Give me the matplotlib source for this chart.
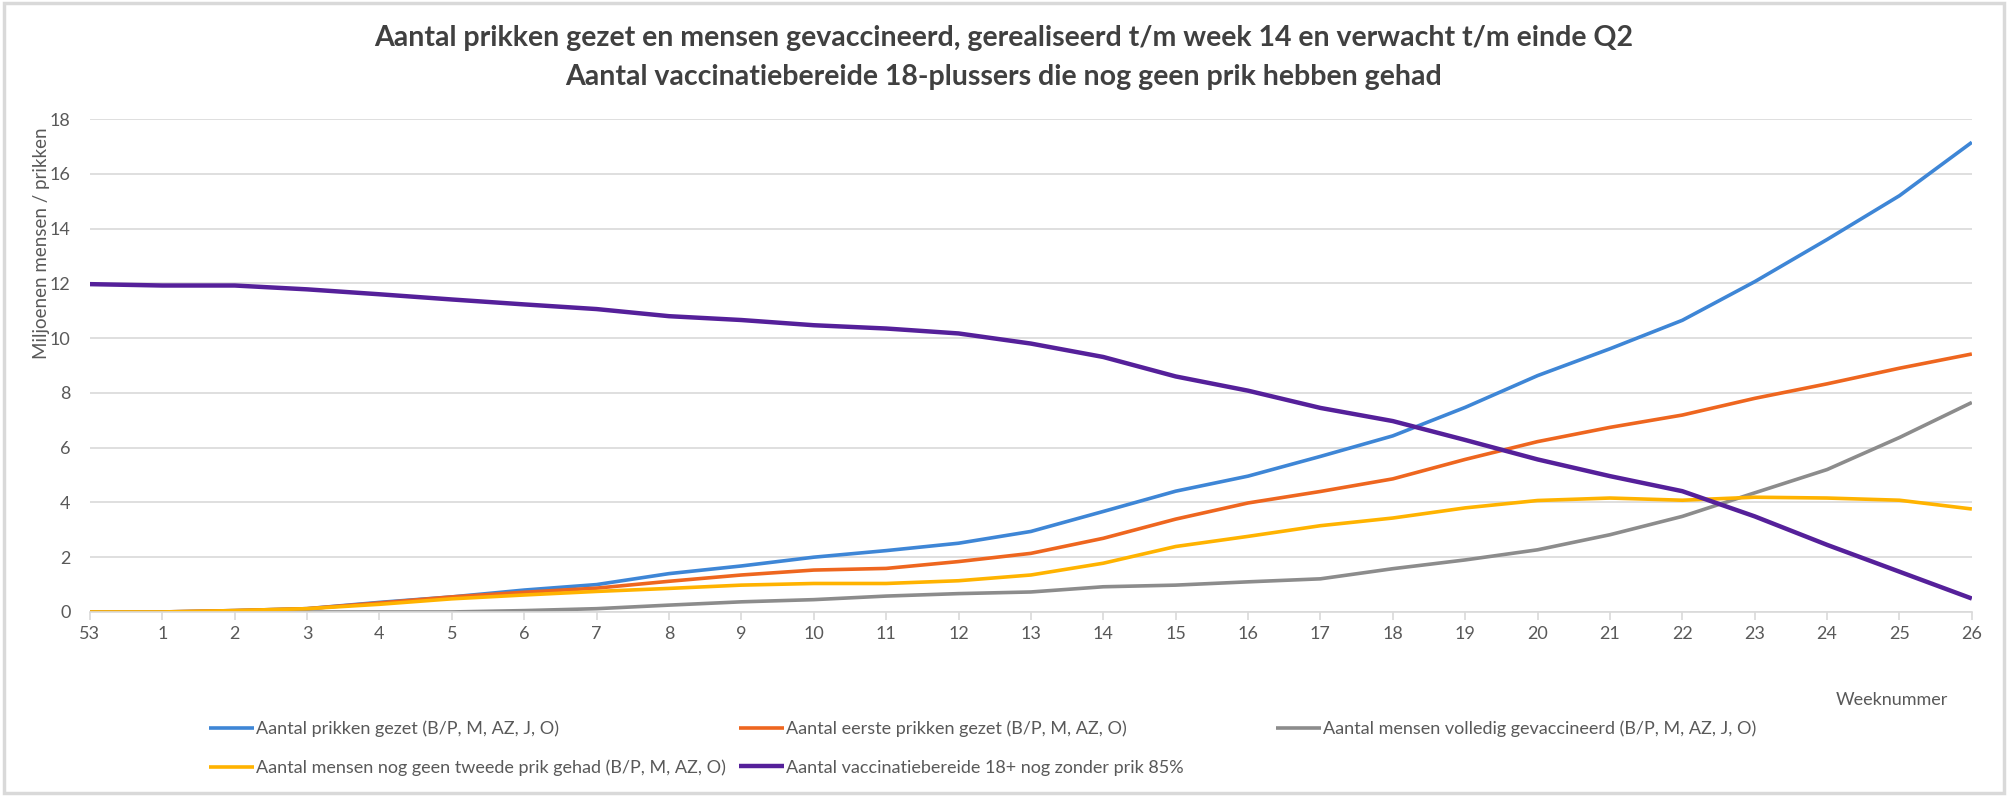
import matplotlib
matplotlib.use('Agg')
import matplotlib.pyplot as plt
from matplotlib.patches import Rectangle

plt.rcParams['font.family'] = ['Lato', 'DejaVu Sans']

weeks = ['53'] + [str(w) for w in range(1, 27)]

prikken_gezet = [0, 0, 0.05, 0.12, 0.35, 0.55, 0.8, 1.0, 1.4, 1.68, 2.0, 2.24, 2.51, 2.94, 3.67,
                 4.41, 4.96, 5.68, 6.43, 7.47, 8.63, 9.61, 10.65, 12.06, 13.6, 15.2, 17.15]
eerste_prikken = [0, 0, 0.05, 0.12, 0.33, 0.55, 0.72, 0.87, 1.12, 1.35, 1.53, 1.59, 1.84, 2.14, 2.69,
                  3.39, 3.98, 4.4, 4.86, 5.57, 6.22, 6.74, 7.19, 7.8, 8.33, 8.9, 9.42]
volledig = [0, 0, 0, 0, 0, 0, 0.05, 0.12, 0.25, 0.37, 0.45, 0.58, 0.67, 0.73, 0.92,
            0.98, 1.1, 1.21, 1.58, 1.9, 2.27, 2.82, 3.49, 4.35, 5.2, 6.37, 7.65]
geen_tweede = [0, 0, 0.05, 0.12, 0.28, 0.48, 0.62, 0.75, 0.86, 0.98, 1.04, 1.04, 1.14, 1.35, 1.78,
               2.39, 2.76, 3.15, 3.43, 3.8, 4.07, 4.16, 4.08, 4.19, 4.16, 4.08, 3.76]
zonder_prik = [11.97, 11.92, 11.92, 11.78, 11.6, 11.41, 11.23, 11.06, 10.8, 10.66, 10.47, 10.35, 10.17, 9.8, 9.31,
               8.6, 8.08, 7.45, 6.97, 6.28, 5.57, 4.96, 4.41, 3.49, 2.45, 1.47, 0.49]

labels = ['Aantal prikken gezet (B/P, M, AZ, J, O)',
          'Aantal eerste prikken gezet (B/P, M, AZ, O)',
          'Aantal mensen volledig gevaccineerd (B/P, M, AZ, J, O)',
          'Aantal mensen nog geen tweede prik gehad (B/P, M, AZ, O)',
          'Aantal vaccinatiebereide 18+ nog zonder prik 85%']
colors = ['#3E86D6', '#EE661F', '#8C8C8C', '#FFB300', '#55209A']

fig = plt.figure(figsize=(20.08, 7.96), dpi=100)
ax = fig.add_axes([0.0448, 0.2312, 0.9372, 0.6193])

x = list(range(len(weeks)))
series = [prikken_gezet, eerste_prikken, volledig, geen_tweede, zonder_prik]
handles = []
for s, lab, c in zip(series, labels, colors):
    lw = 3.2 if c == '#55209A' else 2.6
    h, = ax.plot(x, s, color=c, lw=lw, solid_capstyle='butt', label=lab)
    handles.append(h)

ax.set_xlim(0, 26)
ax.set_ylim(0, 18)
ax.set_yticks(range(0, 19, 2))
ax.set_xticks(x)
ax.set_xticklabels(weeks)
ax.grid(axis='y', color='#D9D9D9', lw=1.2)
ax.set_axisbelow(True)
for sp in ['top', 'right', 'left']:
    ax.spines[sp].set_visible(False)
ax.spines['bottom'].set_color('#D9D9D9')
ax.spines['bottom'].set_linewidth(1.2)
ax.tick_params(axis='y', length=0, pad=14, labelsize=13, labelcolor='#595959')
ax.tick_params(axis='x', length=6, color='#D9D9D9', width=1.2, pad=4, labelsize=13, labelcolor='#595959')

title_kw = dict(ha='center', va='center', fontsize=20.5, fontweight='bold', color='#404040')
fig.text(0.5, 0.952, 'Aantal prikken gezet en mensen gevaccineerd, gerealiseerd t/m week 14 en verwacht t/m einde Q2',
         **title_kw)
fig.text(0.5, 0.903, 'Aantal vaccinatiebereide 18-plussers die nog geen prik hebben gehad', **title_kw)
fig.text(0.0205, 0.694, 'Miljoenen mensen / prikken', rotation=90, ha='center', va='center',
         fontsize=13.5, color='#595959')
fig.text(0.942, 0.1206, 'Weeknummer', ha='center', va='center', fontsize=13, color='#595959')

# legend: two columns on the left, third column (grey) separately
leg_kw = dict(frameon=False, fontsize=13, handlelength=2.5, handletextpad=0.1,
              labelspacing=1.25, borderpad=0, borderaxespad=0, labelcolor='#595959')
fig.legend([handles[0], handles[3], handles[1], handles[4]],
           [labels[0], labels[3], labels[1], labels[4]],
           ncol=2, loc='upper left', bbox_to_anchor=(0.104, 0.095), columnspacing=0.75, **leg_kw)
fig.legend([handles[2]], [labels[2]], loc='upper left', bbox_to_anchor=(0.6355, 0.095), **leg_kw)

fig.patches.append(Rectangle((0.002, 0.004), 0.996, 0.992, transform=fig.transFigure,
                             fill=False, edgecolor='#D9D9D9', lw=2.5))

fig.savefig('out.png', dpi=100)
